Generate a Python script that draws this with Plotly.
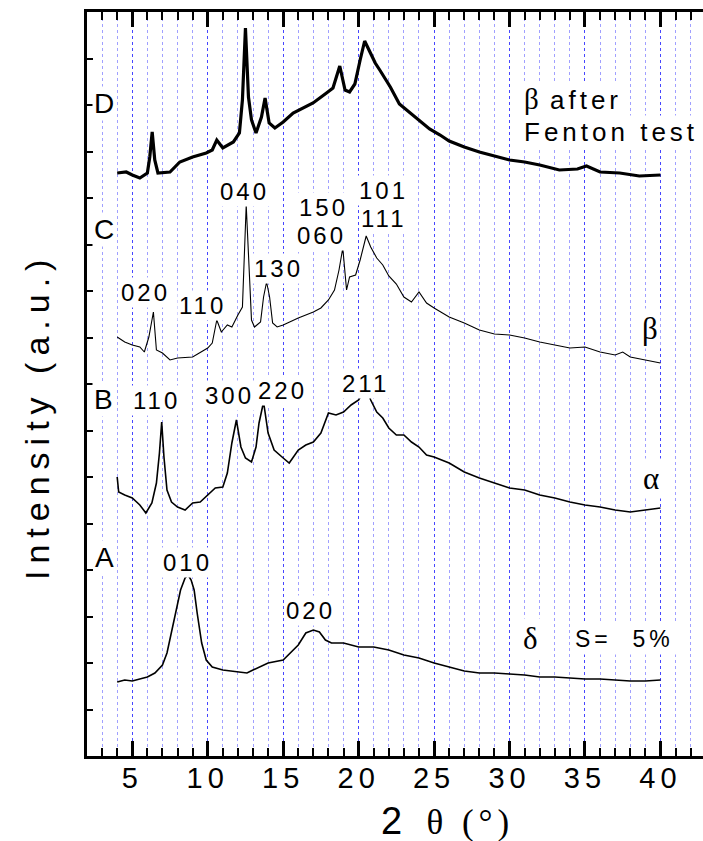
import plotly.graph_objects as go

# ---- data (2theta in degrees, stacked intensity in arbitrary units) ----
d_x = [4.0, 4.6, 5.0, 5.5, 6.0, 6.16, 6.32, 6.49, 6.7, 7.5, 8.15, 9.0, 9.9, 10.3, 10.6, 11.0, 11.7, 12.1,
       12.3, 12.5, 12.7, 12.9, 13.2, 13.56, 13.8, 14.07, 14.45, 15.0, 15.66, 16.3, 16.98, 17.87, 18.3,
       18.75, 19.1, 19.4, 19.75, 20.1, 20.4, 20.75, 21.1, 21.4, 21.7, 22.1, 22.7, 23.4, 24.0, 24.7,
       25.4, 26.0, 27, 28, 29, 30, 31, 32, 33.3, 34.5, 35.1, 35.6, 36, 37.3, 38.6, 40]
d_py = [173, 172, 175, 178, 173, 157, 132, 160, 173, 172, 162, 157, 153, 150, 140, 148, 142, 133,
        100, 28, 97, 120, 133, 117, 98, 123, 128, 122, 113, 108, 103, 93, 88,
        66, 90, 92, 84, 60, 41, 52, 63, 70, 77, 87, 104, 113, 121, 129,
        135, 141, 147, 152, 156, 160, 162, 165, 170, 169, 166, 169, 172, 173, 176, 175]

c_x = [4.0, 4.5, 5.0, 5.5, 5.8, 6.1, 6.4, 6.6, 7.0, 7.5, 8.0, 9.0, 10.0, 10.3, 10.6, 10.9, 11.3, 11.6,
       12.0, 12.3, 12.55, 12.9, 13.1, 13.5, 13.7, 13.9, 14.1, 14.3, 14.6, 15.0, 16.0, 17.0, 17.5, 18.0,
       18.4, 18.7, 18.95, 19.2, 19.4, 19.8, 20.1, 20.3, 20.5, 20.8, 21.2, 21.6, 22.0, 22.5, 23.0, 23.5,
       24.0, 24.5, 25.0, 26, 27, 28, 29, 30, 31, 32, 33, 34, 35, 36, 37, 37.5, 38, 39, 40]
c_py = [337, 342, 345, 347, 352, 337, 312, 350, 353, 360, 358, 357, 348, 343, 320, 332, 325, 327,
        315, 307, 205, 320, 327, 322, 297, 282, 297, 323, 327, 325, 318, 312, 308, 300,
        290, 270, 248, 290, 277, 275, 260, 248, 236, 247, 258, 265, 276, 284, 297, 302,
        292, 303, 308, 317, 323, 330, 334, 335, 338, 342, 345, 348, 347, 352, 355, 352, 357, 360, 363]

b_x = [4.0, 4.1, 4.5, 5.0, 5.5, 5.9, 6.3, 6.6, 6.8, 6.95, 7.1, 7.3, 7.6, 8.0, 8.5, 9.0, 9.5, 10.0,
       10.5, 11.0, 11.3, 11.6, 11.9, 12.2, 12.5, 12.9, 13.2, 13.4, 13.7, 14.0, 14.4, 15.0, 15.4, 16.0,
       16.5, 17.0, 17.5, 18.0, 18.5, 19.0, 19.5, 20.0, 20.3, 20.5, 20.8, 21.2, 21.6, 22.0, 22.5, 23.0,
       23.5, 24.0, 24.5, 25.0, 26, 27, 28, 29, 30, 31, 32, 33, 34, 35, 36, 37, 38, 39, 40]
b_py = [477, 492, 495, 498, 505, 513, 503, 483, 453, 422, 457, 490, 502, 507, 510, 503, 502, 495,
        488, 487, 473, 443, 420, 447, 458, 462, 447, 423, 402, 433, 450, 458, 463, 450,
        445, 442, 433, 413, 415, 412, 405, 400, 392, 387, 400, 412, 418, 428, 435, 435,
        442, 447, 455, 457, 463, 472, 478, 483, 488, 490, 495, 498, 502, 505, 507, 510, 512, 510, 508]

a_x = [4.0, 4.5, 5.0, 5.5, 6.0, 6.5, 7.0, 7.3, 7.6, 7.9, 8.2, 8.5, 8.7, 8.9, 9.1, 9.3, 9.6, 9.9,
       10.3, 11, 12, 12.6, 13, 14, 15, 15.5, 16, 16.5, 17, 17.4, 17.8, 18.2, 19, 20, 21, 22, 23, 24,
       25, 26, 27, 28, 29, 30, 31, 32, 33, 34, 35, 36, 37, 38, 39, 40]
a_py = [682, 680, 681, 679, 677, 673, 665, 653, 633, 610, 590, 578, 575, 580, 590, 613, 643, 660,
        667, 670, 672, 673, 670, 663, 660, 653, 645, 633, 630, 632, 640, 643, 643, 647, 647, 650, 655, 658,
        663, 667, 671, 673, 673, 674, 675, 677, 677, 678, 679, 679, 680, 681, 681, 680]

BASE = 756
d_y = [BASE - v for v in d_py]
c_y = [BASE - v for v in c_py]
b_y = [BASE - v for v in b_py]
a_y = [BASE - v for v in a_py]

tick_vals = [5, 10, 15, 20, 25, 30, 35, 40]
tick_text = [str(v) for v in tick_vals]

# label texts with positions (deg, intensity units)
labels = [
    ("020", 5.90, 464), ("110", 9.67, 451), ("040", 12.46, 565), ("130", 14.71, 488),
    ("150", 17.69, 549), ("060", 17.56, 521), ("101", 21.67, 566), ("111", 21.67, 538),
    ("110", 6.63, 356), ("300", 11.46, 361), ("220", 14.98, 366), ("211", 20.48, 373),
    ("010", 8.68, 194), ("020", 16.83, 146),
]
letters = [("D", 3.11, 653), ("C", 3.11, 527), ("B", 3.11, 357), ("A", 3.18, 199)]
greek = [("β", 39.30, 428), ("α", 39.37, 278), ("δ", 31.41, 118)]

SANS = "Liberation Sans"
SERIF = "Liberation Serif"

fig = go.Figure()
for xs, ys, w in [(d_x, d_y, 3.2), (c_x, c_y, 1.1), (b_x, b_y, 1.6), (a_x, a_y, 1.6)]:
    fig.add_trace(go.Scatter(x=xs, y=ys, mode="lines", line=dict(color="black", width=w),
                             showlegend=False, hoverinfo="skip"))

ann = []
for t, x, y in labels:
    ann.append(dict(x=x, y=y, xref="x", yref="y", showarrow=False,
                    text=f'<span style="letter-spacing:3px">{t}</span>',
                    font=dict(family=SANS, size=24, color="black"),
                    bgcolor="white", borderpad=1))
for t, x, y in letters:
    ann.append(dict(x=x, y=y, xref="x", yref="y", showarrow=False, text=t,
                    font=dict(family=SANS, size=28, color="black"),
                    bgcolor="white", borderpad=1))
for t, x, y in greek:
    ann.append(dict(x=x, y=y, xref="x", yref="y", showarrow=False, text=t,
                    font=dict(family=SERIF, size=31, color="black"),
                    bgcolor="white", borderpad=2))
ann.append(dict(x=37.64, y=117, xref="x", yref="y", showarrow=False,
                text='<span style="letter-spacing:4px">S=  5%</span>',
                font=dict(family=SANS, size=23, color="black"), bgcolor="white", borderpad=2))
ann.append(dict(x=30.81, y=657, xref="x", yref="y", showarrow=False, xanchor="left",
                text='<span style="font-family:Liberation Serif;font-size:29px">β</span>'
                     '<span style="letter-spacing:4px"> after</span>',
                font=dict(family=SANS, size=26, color="black"), bgcolor="white", borderpad=1))
ann.append(dict(x=30.81, y=624, xref="x", yref="y", showarrow=False, xanchor="left",
                text='<span style="letter-spacing:4px">Fenton test</span>',
                font=dict(family=SANS, size=26, color="black"), bgcolor="white", borderpad=1))
# axis titles
ann.append(dict(x=(447 - 87) / 616, y=(756 - 821) / 744, xref="paper", yref="paper", showarrow=False,
                xanchor="center", yanchor="middle",
                text='2 <span style="font-family:Liberation Serif;font-size:35px;letter-spacing:5px">'
                     ' θ (°)</span>',
                font=dict(family=SANS, size=38, color="black")))
ann.append(dict(x=(37 - 87) / 616, y=(756 - 417) / 744, xref="paper", yref="paper", showarrow=False,
                xanchor="center", yanchor="middle", textangle=-90,
                text='<span style="letter-spacing:7px">Intensity (a.u.)</span>',
                font=dict(family=SANS, size=34, color="black")))

fig.update_layout(
    width=703, height=841,
    margin=dict(l=87, r=0, t=12, b=85, pad=0),
    plot_bgcolor="white", paper_bgcolor="white",
    annotations=ann,
    xaxis=dict(
        range=[2, 42.82], tickmode="array", tickvals=tick_vals,
        ticktext=[f'<span style="letter-spacing:5px">{t}</span>' for t in tick_text],
        ticks="inside", ticklen=15, tickwidth=2.5, tickcolor="black",
        ticklabelstandoff=-6,
        showline=True, linewidth=3, linecolor="black", mirror="allticks",
        tickfont=dict(family=SANS, size=29, color="black"),
        showgrid=True, gridcolor="rgb(70,70,255)", griddash="dot", gridwidth=1,
        zeroline=False,
        minor=dict(tick0=0, dtick=1, ticks="inside", ticklen=8, tickwidth=2, tickcolor="black",
                   showgrid=True, gridcolor="rgb(160,160,255)", griddash="dot", gridwidth=1),
    ),
    yaxis=dict(
        range=[0, 744], tickmode="linear", tick0=0, dtick=46.5,
        ticks="inside", ticklen=6, tickwidth=2, tickcolor="black",
        showticklabels=False, showgrid=False, zeroline=False,
        showline=True, linewidth=3, linecolor="black", mirror=False,
    ),
)

fig.write_html("out.html")
